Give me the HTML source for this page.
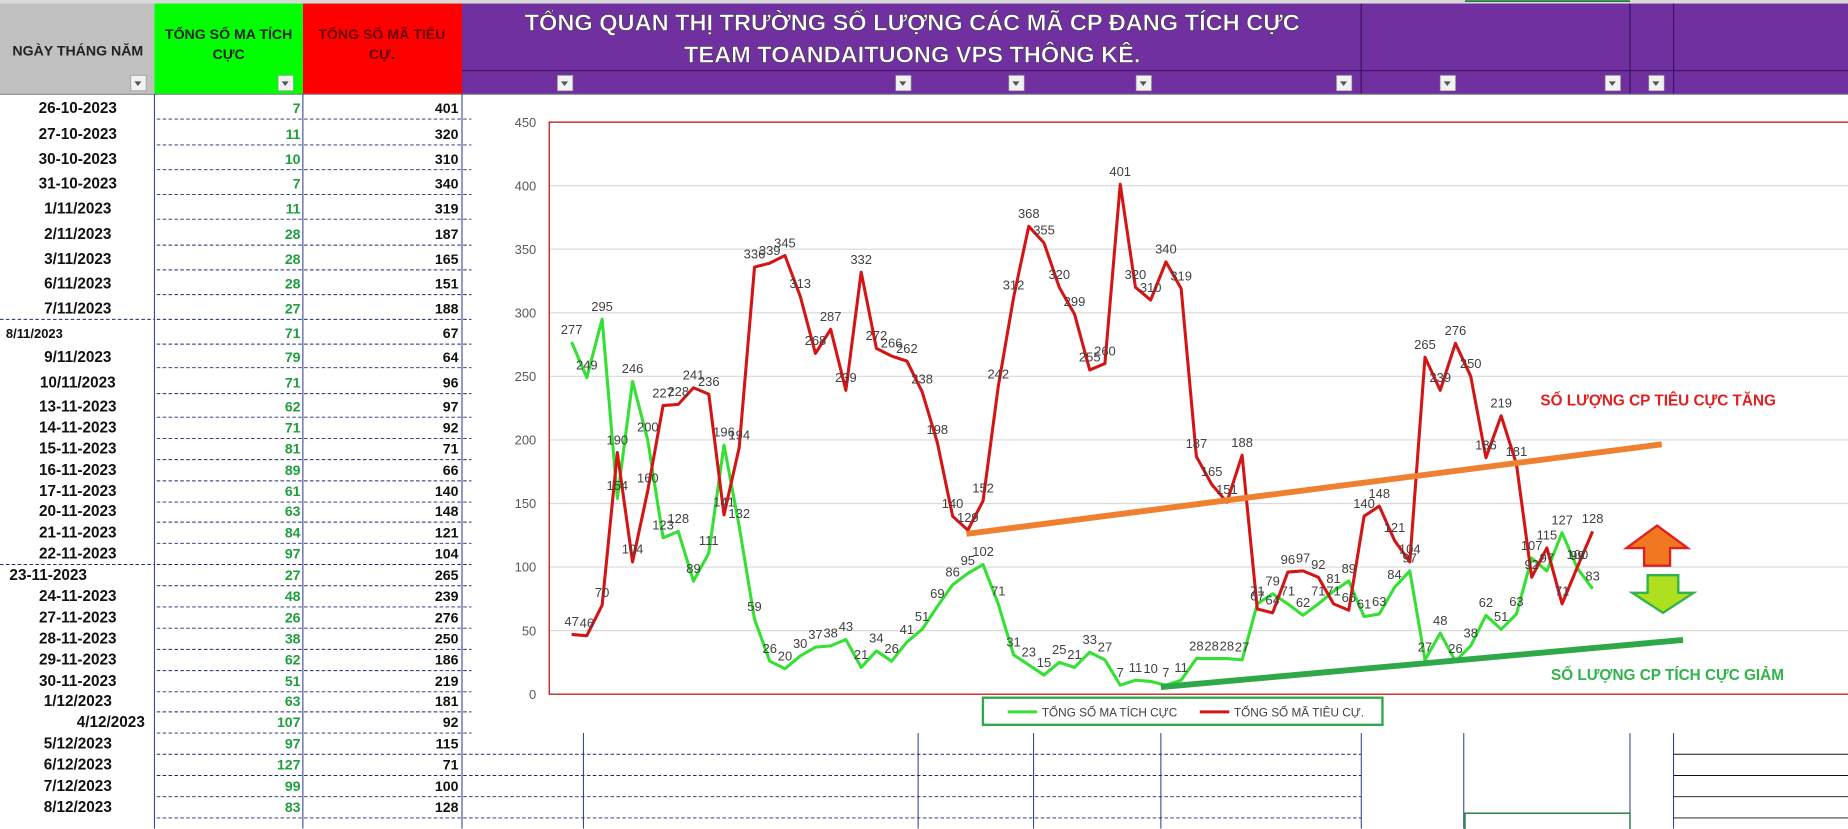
<!DOCTYPE html>
<html><head><meta charset="utf-8"><style>
html,body{margin:0;padding:0;background:#fff;}
svg{display:block;}
text{font-family:"Liberation Sans",sans-serif;}
</style></head><body>
<svg id="s" width="1848" height="829" viewBox="0 0 1568 703.4" preserveAspectRatio="none" xmlns="http://www.w3.org/2000/svg">
<rect x="0" y="0" width="1568" height="703.4" fill="#fff"/>
<rect x="0" y="0" width="1568" height="3" fill="#d9d9d9"/>
<rect x="0" y="3" width="131" height="77" fill="#c0c0c0"/>
<rect x="131" y="3" width="126" height="77" fill="#00ff00"/>
<rect x="257" y="3" width="135" height="77" fill="#ff0000"/>
<rect x="392" y="3" width="1176" height="77" fill="#7030a0"/>
<line x1="392" y1="60" x2="1568" y2="60" stroke="#3a1060" stroke-width="1"/>
<line x1="1155" y1="3" x2="1155" y2="80" stroke="#3a1060"/>
<line x1="1383" y1="3" x2="1383" y2="80" stroke="#3a1060"/>
<line x1="1420" y1="3" x2="1420" y2="80" stroke="#3a1060"/>
<line x1="0" y1="80" x2="1568" y2="80" stroke="#888"/>
<text x="66" y="47" font-size="12" font-weight="bold" text-anchor="middle" fill="#222">NGÀY THÁNG NĂM</text>
<text x="194" y="33" font-size="12" font-weight="bold" text-anchor="middle" fill="#222">TỔNG SỐ MA TÍCH</text>
<text x="194" y="50" font-size="12" font-weight="bold" text-anchor="middle" fill="#222">CỰC</text>
<text x="324" y="33" font-size="12" font-weight="bold" text-anchor="middle" fill="#600">TỔNG SỐ MÃ TIÊU</text>
<text x="324" y="50" font-size="12" font-weight="bold" text-anchor="middle" fill="#600">CỰ.</text>
<text x="774" y="26" font-size="20" font-weight="bold" text-anchor="middle" fill="#fff" stroke="#333" stroke-width="0.4">TỔNG QUAN THỊ TRƯỜNG SỐ LƯỢNG CÁC MÃ CP ĐANG TÍCH CỰC</text>
<text x="774" y="53" font-size="20" font-weight="bold" text-anchor="middle" fill="#fff" stroke="#333" stroke-width="0.4">TEAM TOANDAITUONG VPS THÔNG KÊ.</text>
<g id="btns"></g>
<g id="table"></g>
<g id="chart"></g>
</svg>
<script>
var NS="http://www.w3.org/2000/svg";
function el(p,t,a,txt){var e=document.createElementNS(NS,t);for(var k in a)e.setAttribute(k,a[k]);if(txt!=null)e.textContent=txt;p.appendChild(e);return e;}
var btns=document.getElementById('btns');
[117,242,479,766,862,970,1140,1228,1368,1405].forEach(function(x){
 el(btns,'rect',{x:x-6,y:64,width:13,height:13,fill:'#f2f2f2',stroke:'#999','stroke-width':0.6});
 el(btns,'path',{d:'M'+(x-3)+' 69 L'+(x+3)+' 69 L'+x+' 73 Z',fill:'#555'});
});
var T=document.getElementById('table');
var rows=[["26-10-2023",7,401,91],["27-10-2023",11,320,113],["30-10-2023",10,310,134],["31-10-2023",7,340,155],["1/11/2023",11,319,176],["2/11/2023",28,187,198],["3/11/2023",28,165,219],["6/11/2023",28,151,240],["7/11/2023",27,188,261],["8/11/2023",71,67,282],["9/11/2023",79,64,302],["10/11/2023",71,96,324],["13-11-2023",62,97,344],["14-11-2023",71,92,362],["15-11-2023",81,71,380],["16-11-2023",89,66,398],["17-11-2023",61,140,416],["20-11-2023",63,148,433],["21-11-2023",84,121,451],["22-11-2023",97,104,469],["23-11-2023",27,265,487],["24-11-2023",48,239,505],["27-11-2023",26,276,523],["28-11-2023",38,250,541],["29-11-2023",62,186,559],["30-11-2023",51,219,577],["1/12/2023",63,181,594],["4/12/2023",107,92,612],["5/12/2023",97,115,630],["6/12/2023",127,71,648],["7/12/2023",99,100,666],["8/12/2023",83,128,684]];
rows.forEach(function(r,i){
 var y=r[3], ax=66, anc='middle', fs=13;
 if(r[0]=="8/11/2023"){ax=5;anc='start';fs=11;}
 if(r[0]=="23-11-2023"){ax=8;anc='start';}
 if(r[0]=="4/12/2023"){ax=94;}
 el(T,'text',{x:ax,y:y+5,'font-size':fs,'font-weight':'bold','text-anchor':anc,fill:'#111'},r[0]);
 el(T,'text',{x:255,y:y+5,'font-size':12,'font-weight':'bold','text-anchor':'end',fill:'#1f9e3f'},r[1]);
 el(T,'text',{x:389,y:y+5,'font-size':12,'font-weight':'bold','text-anchor':'end',fill:'#111'},r[2]);
 var ly=y+10;
 var x2 = y>620 ? 1155 : 400;
 el(T,'line',{x1:133,y1:ly,x2:x2,y2:ly,stroke:'#1a2a6a','stroke-width':0.8,'stroke-dasharray':'3,2'});
 if(i==8||i==19) el(T,'line',{x1:0,y1:ly,x2:131,y2:ly,stroke:'#1a2a6a','stroke-width':0.8,'stroke-dasharray':'3,2'});
 if(y>620) el(T,'line',{x1:1420,y1:ly,x2:1568,y2:ly,stroke:'#111','stroke-width':0.8});
});
[131,257,392].forEach(function(x){el(T,'line',{x1:x,y1:80,x2:x,y2:703,stroke:'#1a2a8a','stroke-width':0.8});});
[495,779,877,985,1155,1242,1383,1420].forEach(function(x){el(T,'line',{x1:x,y1:622,x2:x,y2:703,stroke:'#1a2a8a','stroke-width':0.8});});
el(T,'rect',{x:1243,y:690,width:140,height:14,fill:'none',stroke:'#1f7a3f','stroke-width':1.2});
el(T,'line',{x1:1243,y1:1,x2:1383,y2:1,stroke:'#1f7a3f','stroke-width':1.5});

var C=document.getElementById('chart');
var G=[277,249,295,154,246,200,123,128,89,111,196,132,59,26,20,30,37,38,43,21,34,26,41,51,69,86,95,102,71,31,23,15,25,21,33,27,7,11,10,7,11,28,28,28,27,71,79,71,62,71,81,89,61,63,84,97,27,48,26,38,62,51,63,107,97,127,99,83];
var R=[47,46,70,190,104,160,227,228,241,236,141,194,336,339,345,313,268,287,239,332,272,266,262,238,198,140,129,152,242,312,368,355,320,299,255,260,401,320,310,340,319,187,165,151,188,67,64,96,97,92,71,66,140,148,121,104,265,239,276,250,186,219,181,92,115,71,100,128];
function px(i){return 485+i*12.93;} function py(v){return 589-v*1.0787;}
for(var v=0;v<=450;v+=50){
 if(v>0) el(C,'line',{x1:466,y1:py(v),x2:1568,y2:py(v),stroke:'#d9d9d9','stroke-width':1});
 el(C,'text',{x:455,y:py(v)+4,'font-size':11,'text-anchor':'end',fill:'#595959'},v);
}
el(C,'rect',{x:466,y:103.6,width:1110,height:485.4,fill:'none',stroke:'#c00000','stroke-width':1});
function poly(a,col){var p=a.map(function(v,i){return px(i).toFixed(1)+','+py(v).toFixed(1);}).join(' ');
 el(C,'polyline',{points:p,fill:'none',stroke:col,'stroke-width':2.6,'stroke-linejoin':'round'});}
poly(G,'#33e033');
poly(R,'#d41515');
G.forEach(function(v,i){el(C,'text',{x:px(i),y:py(v)-7,'font-size':11,'text-anchor':'middle',fill:'#404040'},v);});
R.forEach(function(v,i){el(C,'text',{x:px(i),y:py(v)-7,'font-size':11,'text-anchor':'middle',fill:'#404040'},v);});
el(C,'line',{x1:820,y1:453,x2:1410,y2:377,stroke:'#ee8030','stroke-width':5});
el(C,'line',{x1:985,y1:583,x2:1428,y2:543,stroke:'#2fa84a','stroke-width':5});
el(C,'text',{x:1307,y:344,'font-size':13,'font-weight':'bold',fill:'#e02020'},'SỐ LƯỢNG CP TIÊU CỰC TĂNG');
el(C,'text',{x:1316,y:577,'font-size':13,'font-weight':'bold',fill:'#2fb34a'},'SỐ LƯỢNG CP TÍCH CỰC GIẢM');
el(C,'path',{d:'M1406 446 L1432 465 L1417 465 L1417 480 L1395 480 L1395 465 L1380 465 Z',fill:'#f07820',stroke:'#e02020','stroke-width':2});
el(C,'path',{d:'M1398 488 L1424 488 L1424 503 L1437 503 L1411 520 L1385 503 L1398 503 Z',fill:'#aee020',stroke:'#2fb34a','stroke-width':2});
el(C,'rect',{x:834,y:592,width:339,height:23,fill:'#fff',stroke:'#2fa84a','stroke-width':2});
el(C,'line',{x1:855,y1:604,x2:880,y2:604,stroke:'#33e033','stroke-width':2.6});
el(C,'text',{x:884,y:608,'font-size':10,fill:'#404040'},'TỔNG SỐ MA TÍCH CỰC');
el(C,'line',{x1:1018,y1:604,x2:1043,y2:604,stroke:'#d41515','stroke-width':2.6});
el(C,'text',{x:1047,y:608,'font-size':10,fill:'#404040'},'TỔNG SỐ MÃ TIÊU CỰ.');
</script>
</body></html>
